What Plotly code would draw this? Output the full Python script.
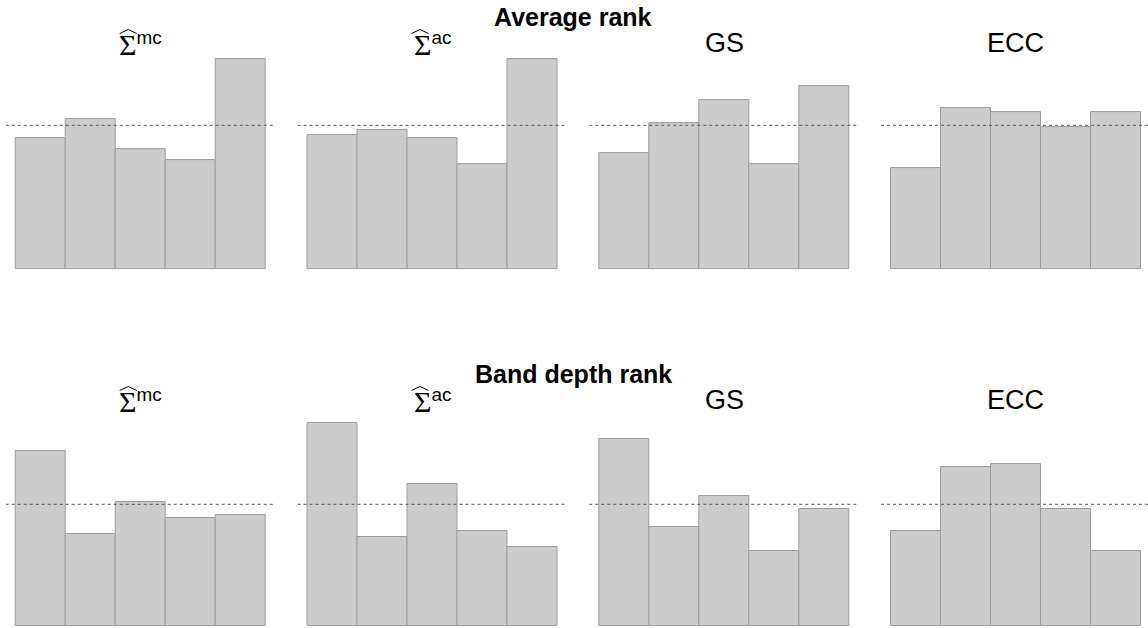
import plotly.graph_objects as go

# ---------------- data ----------------
bins = [1, 2, 3, 4, 5]
sigma_sup = ["mc", "ac", None, None]
plain_titles = [None, None, "GS", "ECC"]
row_titles = ["Average rank", "Band depth rank"]

avg_mc = [0.182, 0.208, 0.167, 0.151, 0.292]
avg_ac = [0.187, 0.193, 0.182, 0.146, 0.292]
avg_gs = [0.161, 0.203, 0.235, 0.146, 0.255]
avg_ecc = [0.141, 0.224, 0.218, 0.198, 0.218]

bd_mc = [0.287, 0.151, 0.203, 0.177, 0.182]
bd_ac = [0.333, 0.146, 0.234, 0.156, 0.130]
bd_gs = [0.307, 0.162, 0.213, 0.124, 0.192]
bd_ecc = [0.156, 0.261, 0.266, 0.192, 0.124]

uniform_level = 0.2

rows = [[avg_mc, avg_ac, avg_gs, avg_ecc], [bd_mc, bd_ac, bd_gs, bd_ecc]]

# ---------------- geometry ----------------
W, H = 1148, 628
panel_left_px = [5.7, 297.5, 589.3, 881.0]
panel_w_px = 270.0
px_per_x = 50.0
x0 = 0.3
row_zero_px = [269.3, 626.0]
row_ppu = [720.0, 608.5]
row_ytop = [0.31, 0.35]
ybot = -0.003
title_y_px = [17, 374]
sub_y_px = [43, 400]

fig = go.Figure()
layout_axes = {}
annotations = []
shapes = []


def px(xp, yp):
    return xp / W, (H - yp) / H


k = 0
for r in range(2):
    y0px = row_zero_px[r]
    ppu = row_ppu[r]
    bottom_px = y0px - ybot * ppu
    top_px = y0px - row_ytop[r] * ppu
    ydom = [(H - bottom_px) / H, (H - top_px) / H]
    for c in range(4):
        k += 1
        sfx = "" if k == 1 else str(k)
        left = panel_left_px[c]
        right = min(left + panel_w_px, W)
        xdom = [left / W, right / W]
        xr = [x0, x0 + (right - left) / px_per_x]
        fig.add_trace(go.Bar(
            x=bins, y=rows[r][c], width=1.0,
            marker=dict(color="#cccccc", line=dict(color="#9c9c9c", width=1)),
            xaxis="x" + sfx, yaxis="y" + sfx, showlegend=False, hoverinfo="skip"))
        fig.add_trace(go.Scatter(
            x=[x0, x0 + panel_w_px / px_per_x], y=[uniform_level, uniform_level],
            mode="lines", line=dict(color="#555555", width=1, dash="dot"),
            xaxis="x" + sfx, yaxis="y" + sfx, showlegend=False, hoverinfo="skip"))
        layout_axes["xaxis" + sfx] = dict(domain=xdom, range=xr, visible=False,
                                         anchor="y" + sfx, fixedrange=True)
        layout_axes["yaxis" + sfx] = dict(domain=ydom, range=[ybot, row_ytop[r]], visible=False,
                                         anchor="x" + sfx, fixedrange=True)
        cx = left + panel_w_px / 2
        cy = sub_y_px[r]
        if sigma_sup[c] is not None:
            txt = ('<span style="font-family:\'Liberation Serif\';font-size:30px">Σ</span>'
                   '<sup>' + sigma_sup[c] + '</sup>')
            ax, ay = px(cx, cy + 1)
            annotations.append(dict(
                text=txt, xref="paper", yref="paper", x=ax, y=ay,
                xanchor="center", yanchor="middle", showarrow=False,
                font=dict(size=27, color="black", family="Liberation Sans")))
            # wide hat over the sigma
            hx0, hy0 = px(cx - 21.0, cy - 9.5)
            hx1, hy1 = px(cx - 12.5, cy - 13.5)
            hx2, hy2 = px(cx - 4.0, cy - 9.5)
            shapes.append(dict(
                type="path", xref="paper", yref="paper",
                path=f"M {hx0} {hy0} L {hx1} {hy1} L {hx2} {hy2}",
                line=dict(color="black", width=1)))
        else:
            ax, ay = px(cx, cy)
            annotations.append(dict(
                text=plain_titles[c], xref="paper", yref="paper", x=ax, y=ay,
                xanchor="center", yanchor="middle", showarrow=False,
                font=dict(size=27, color="black", family="Liberation Sans")))
    annotations.append(dict(
        text="<b>" + row_titles[r] + "</b>", xref="paper", yref="paper",
        x=573 / W, y=(H - title_y_px[r]) / H, xanchor="center", yanchor="middle",
        showarrow=False, font=dict(size=25, color="black", family="Liberation Sans")))

fig.update_layout(
    width=W, height=H, margin=dict(l=0, r=0, t=0, b=0),
    paper_bgcolor="white", plot_bgcolor="rgba(0,0,0,0)",
    bargap=0, annotations=annotations, shapes=shapes,
    font=dict(family="Liberation Sans"),
    **layout_axes)

fig.write_html("out.html", config={"displayModeBar": False})
